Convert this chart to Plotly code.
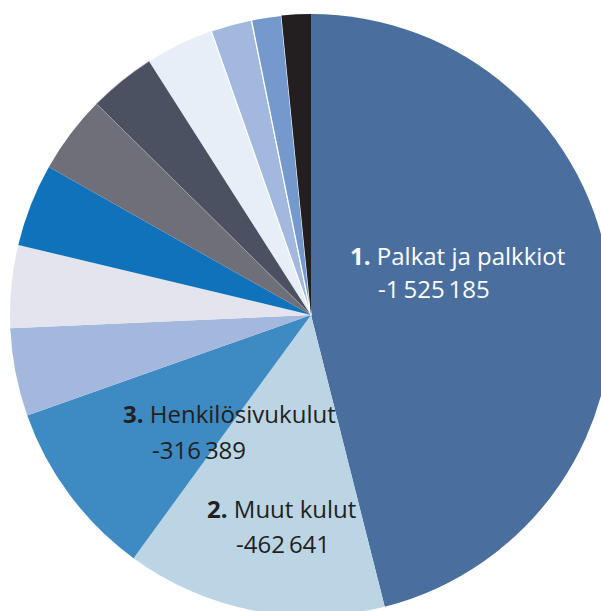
import plotly.graph_objects as go

W, H = 620, 630

labels = ["Palkat ja palkkiot", "Muut kulut", "Henkilösivukulut", "Erä 4", "Erä 5",
          "Erä 6", "Erä 7", "Erä 8", "Erä 9", "Erä 10", "Erä 11", "Erä 12"]
values = [1525185, 462641, 316389, 156000, 147000, 147000, 139000, 119000, 121000, 73000, 53000, 52000]
colors = ["#4a6f9f", "#bcd5e5", "#3e8ac2", "#a4b8de", "#e3e4ee", "#1072ba",
          "#6f6f7a", "#4b5161", "#e6eff7", "#a3b8de", "#7399cd", "#231f20"]
line_widths = [0, 0, 0, 0, 0, 0, 0, 0.6, 0, 1.2, 1.2, 0]
line_colors = ["#ffffff"] * 7 + ["#b0b0b8"] + ["#ffffff"] * 4

label_texts = [("<b>1.</b> Palkat ja palkkiot", "-1\u2009525\u2009185", "#ffffff", 348, 255, 376, 289),
               ("<b>2.</b> Muut kulut", "-462\u2009641", "#231f20", 205, 508, 234, 543),
               ("<b>3.</b> Henkilösivukulut", "-316\u2009389", "#231f20", 121, 413, 150, 449)]

cx, cy, r = 311, 315, 301

fig = go.Figure(go.Pie(
    labels=labels, values=values, sort=False, direction="clockwise", rotation=0,
    marker=dict(colors=colors, line=dict(color=line_colors, width=line_widths)),
    textinfo="none", hoverinfo="label+value",
    domain=dict(x=[(cx - r) / W, (cx + r) / W], y=[1 - (cy + r) / H, 1 - (cy - r) / H]),
))

ann = []
for t1, t2, col, x1, y1, x2, y2 in label_texts:
    ann.append(dict(text=t1, x=x1 / W, y=1 - y1 / H, xref="paper", yref="paper",
                    xanchor="left", yanchor="middle", showarrow=False,
                    font=dict(family="Open Sans", size=24, color=col)))
    ann.append(dict(text=t2, x=x2 / W, y=1 - y2 / H, xref="paper", yref="paper",
                    xanchor="left", yanchor="middle", showarrow=False,
                    font=dict(family="Open Sans", size=24, color=col)))

fig.update_layout(width=W, height=H, margin=dict(l=0, r=0, t=0, b=0),
                  showlegend=False, paper_bgcolor="white", plot_bgcolor="white",
                  annotations=ann)

fig.write_html("out.html", config={"displayModeBar": False},
               post_script="document.body.style.margin='0';document.body.style.overflow='hidden';document.documentElement.style.overflow='hidden';")
